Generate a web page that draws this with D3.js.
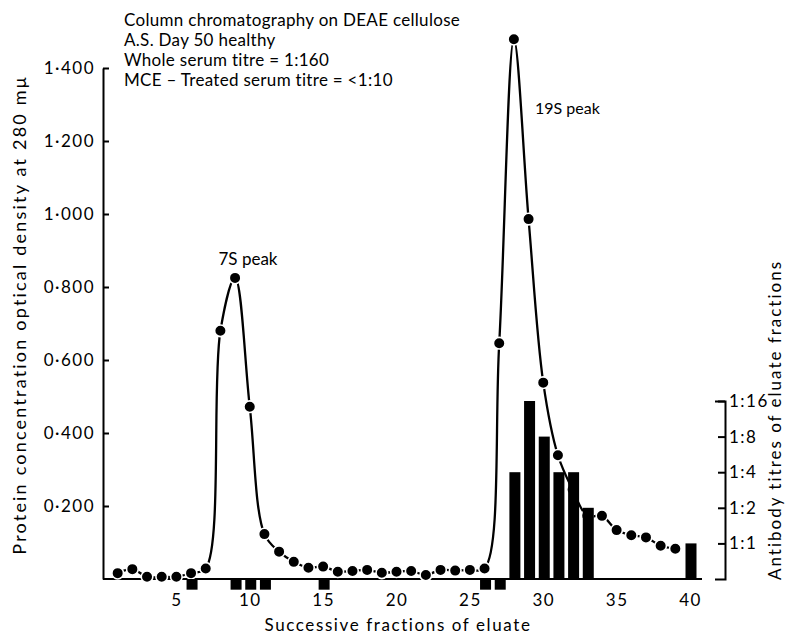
<!DOCTYPE html>
<html>
<head>
<meta charset="utf-8">
<script src="https://cdn.jsdelivr.net/npm/d3@7/dist/d3.min.js"></script>
<style>
body { margin: 0; background: #fff; }
svg text { font-family: Lato, "Noto Sans", sans-serif; fill: #000; }
.axis path, .axis line { stroke: #000; stroke-width: 2; }
.axis text { font-size: 17px; letter-spacing: 1.5px; }
</style>
</head>
<body>
<div id="chart"></div>
<script>
// optical density at 280 mu for each fraction
const fractions = [1, 2, 3, 4, 5, 6, 7, 8, 9, 10, 11, 12, 13, 14, 15, 16, 17, 18, 19, 20,
  21, 22, 23, 24, 25, 26, 27, 28, 29, 30, 31, 32, 33, 34, 35, 36, 37, 38, 39];
const opticalDensity = [0.016, 0.027, 0.006, 0.006, 0.006, 0.016, 0.029, 0.68, 0.825, 0.472,
  0.123, 0.075, 0.047, 0.031, 0.034, 0.020, 0.022, 0.025, 0.017, 0.020,
  0.022, 0.011, 0.025, 0.023, 0.025, 0.029, 0.646, 1.479, 0.986, 0.538,
  0.339, 0.245, 0.173, 0.173, 0.134, 0.120, 0.114, 0.091, 0.083];

// antibody titres of eluate fractions ("<1:1" = negative, drawn under the axis)
const titreFractions = [6, 9, 10, 11, 15, 26, 27, 28, 29, 30, 31, 32, 33, 40];
const titres = ["<1:1", "<1:1", "<1:1", "<1:1", "<1:1", "<1:1", "<1:1",
  "1:4", "1:16", "1:8", "1:4", "1:4", "1:2", "1:1"];
const titreTicks = ["1:1", "1:2", "1:4", "1:8", "1:16"];

const odTicks = [0.2, 0.4, 0.6, 0.8, 1.0, 1.2, 1.4];
const fractionTicks = [5, 10, 15, 20, 25, 30, 35, 40];

const titleLines = ["Column chromatography on DEAE cellulose",
  "A.S. Day 50 healthy",
  "Whole serum titre = 1:160",
  "MCE \u2013 Treated serum titre = <1:10"];

let total_width = 788;
let total_height = 636;
let left = 103, right = 690, base = 579, top_y = 68;

let svg = d3.select("#chart").append("svg")
  .attr("width", total_width)
  .attr("height", total_height);

let x = d3.scaleLinear().domain([0, 40]).range([left, right]);
let y = d3.scaleLinear().domain([0, 1.4]).range([base, top_y]);
let yTitre = d3.scaleLinear().domain([0, 5]).range([base, 401]);

function titreLevel(t){
  let i = titreTicks.indexOf(t);
  return i < 0 ? -0.3 : i + 1;
}

// left axis
svg.append("g")
  .attr("class", "axis")
  .attr("transform", "translate(" + left + ",0)")
  .call(d3.axisLeft(y).tickValues(odTicks).tickSizeInner(-6).tickSizeOuter(0).tickPadding(8)
    .tickFormat(d => d3.format(".3f")(d).replace(".", "\u00b7")));

// bottom axis
let xAxis = svg.append("g")
  .attr("class", "axis")
  .attr("transform", "translate(0," + base + ")")
  .call(d3.axisBottom(x).tickValues(fractionTicks).tickSize(0).tickPadding(15));
xAxis.select(".domain").remove();
svg.append("line")
  .attr("x1", left).attr("x2", x(40) + 12)
  .attr("y1", base).attr("y2", base)
  .attr("stroke", "#000").attr("stroke-width", 2);

// right axis
svg.append("g")
  .attr("class", "axis")
  .attr("transform", "translate(725,0)")
  .call(d3.axisRight(yTitre).tickValues([1, 2, 3, 4, 5]).tickSizeInner(-7).tickSizeOuter(-10).tickPadding(4)
    .tickFormat(d => titreTicks[d - 1]));

// OD curve
let pts = fractions.map((f, i) => [f, opticalDensity[i]]);
let line = d3.line()
  .x(d => x(d[0]))
  .y(d => y(d[1]))
  .curve(d3.curveCatmullRom.alpha(0.5));
svg.append("path").datum(pts)
  .attr("d", line)
  .attr("fill", "none")
  .attr("stroke", "#000")
  .attr("stroke-width", 2.3);

svg.append("g").selectAll("circle").data(pts).enter().append("circle")
  .attr("cx", d => x(d[0]))
  .attr("cy", d => y(d[1]))
  .attr("r", 5.8)
  .attr("fill", "#000")
  .attr("stroke", "#fff")
  .attr("stroke-width", 1.6);

// titre bars
let barW = 11;
svg.append("g").selectAll("rect").data(titreFractions).enter().append("rect")
  .attr("x", d => x(d) - barW / 2 + 1)
  .attr("width", barW)
  .attr("y", (d, i) => Math.min(yTitre(titreLevel(titres[i])), base))
  .attr("height", (d, i) => Math.abs(base - yTitre(titreLevel(titres[i]))))
  .attr("fill", "#000");

// titles
svg.append("g").selectAll("text").data(titleLines).enter().append("text")
  .attr("x", 124)
  .attr("y", (d, i) => 26 + i * 20)
  .attr("font-size", "17px")
  .attr("letter-spacing", "0.3px")
  .text(d => d);

svg.append("text")
  .attr("x", 248).attr("y", 265)
  .attr("text-anchor", "middle")
  .attr("font-size", "17px")
  .text("7S peak");
svg.append("text")
  .attr("x", 535).attr("y", 114)
  .attr("font-size", "16px")
  .text("19S peak");

svg.append("text")
  .attr("x", 398).attr("y", 631)
  .attr("text-anchor", "middle")
  .attr("font-size", "17px")
  .attr("letter-spacing", "1.6px")
  .text("Successive fractions of eluate");

svg.append("text")
  .attr("transform", "translate(26,315) rotate(-90)")
  .attr("text-anchor", "middle")
  .attr("font-size", "18px")
  .attr("letter-spacing", "2.2px")
  .text("Protein concentration optical density at 280 m\u03bc");

svg.append("text")
  .attr("transform", "translate(781,420) rotate(-90)")
  .attr("text-anchor", "middle")
  .attr("font-size", "17px")
  .attr("letter-spacing", "2px")
  .text("Antibody titres of eluate fractions");
</script>
</body>
</html>
